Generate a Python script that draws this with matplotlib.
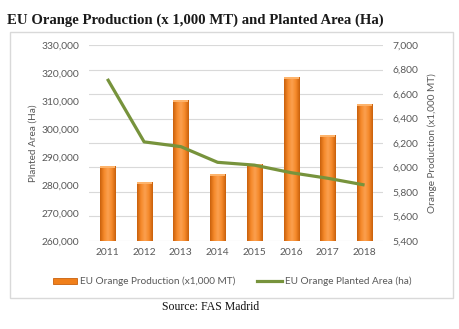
import numpy as np
import matplotlib
matplotlib.use("Agg")
import matplotlib.pyplot as plt
from matplotlib.colors import LinearSegmentedColormap
from matplotlib.patches import Rectangle

years = ["2011", "2012", "2013", "2014", "2015", "2016", "2017", "2018"]
production = [6015, 5880, 6550, 5947, 6030, 6740, 6265, 6518]  # x1,000 MT
planted_area = [317900, 295400, 293700, 288100, 287100, 284400, 282400, 280000]  # ha

left_ticks = [260000, 270000, 280000, 290000, 300000, 310000, 320000, 330000]
right_ticks = [5400, 5600, 5800, 6000, 6200, 6400, 6600, 6800, 7000]

GRAY = "#595959"
ORANGE = "#F07F1A"
GREEN = "#77933C"

plt.rcParams["font.family"] = ["Lato", "DejaVu Sans"]

fig = plt.figure(figsize=(4.6, 3.29), dpi=100)
fig.patch.set_facecolor("white")

# outer chart frame
fig.patches.append(Rectangle((10 / 460, 1 - 298 / 329), 443 / 460, 266 / 329,
                             transform=fig.transFigure, fill=False,
                             edgecolor="#D9D9D9", linewidth=1.0))

ax2 = fig.add_axes([0.1935, 0.2675, 0.639, 0.5957])
ax = ax2.twinx()
ax.yaxis.tick_left()
ax.yaxis.set_label_position("left")
ax2.yaxis.tick_right()
ax2.yaxis.set_label_position("right")

x = np.arange(len(years))
width = 0.41

# production bars with a cylinder-like shading
bars = ax2.bar(x, production, width=width, color=ORANGE, edgecolor="none", zorder=2)
shade = LinearSegmentedColormap.from_list(
    "shade", ["#C9600C", "#F5892A", "#FBA050", "#F5892A", "#C9600C"])
grad = np.linspace(0, 1, 64).reshape(1, -1)
for b in bars:
    x0, w, h = b.get_x(), b.get_width(), b.get_height()
    im = ax2.imshow(grad, cmap=shade, aspect="auto", zorder=3,
                    extent=[x0, x0 + w, right_ticks[0], h])
    im.set_clip_path(b)
    ax2.add_patch(Rectangle((x0, h - 18), w, 18, color="#FDB36B", zorder=4,
                            clip_path=b, linewidth=0))

ax2.set_ylim(right_ticks[0], right_ticks[-1])
ax2.set_yticks(right_ticks)
ax2.set_yticklabels([f"{v:,}" for v in right_ticks])
ax2.set_xlim(-0.5, len(years) - 0.5)
ax2.set_xticks(x)
ax2.set_xticklabels(years)
ax2.yaxis.grid(True, color="#D9D9D9", linewidth=0.8)
ax2.set_axisbelow(True)

# planted area line on the left axis
ax.plot(x, planted_area, color=GREEN, linewidth=2.3, solid_capstyle="butt", zorder=5)
ax.set_ylim(left_ticks[0], left_ticks[-1])
ax.set_yticks(left_ticks)
ax.set_yticklabels([f"{v:,}" for v in left_ticks])

ax.set_zorder(ax2.get_zorder() + 1)
ax.patch.set_visible(False)

for a in (ax, ax2):
    for s in a.spines.values():
        s.set_visible(False)
    a.tick_params(length=0, labelsize=7.4, colors=GRAY, pad=7)
ax2.tick_params(axis="x", pad=5)

ax.set_ylabel("Planted Area (Ha)", fontsize=7.2, color=GRAY, labelpad=3)
ax2.set_ylabel("Orange Production (x1,000 MT)", fontsize=7.2, color=GRAY, labelpad=6)

fig.text(7 / 460, 1 - 20 / 329, "EU Orange Production (x 1,000 MT) and Planted Area (Ha)",
         family="Liberation Serif", fontweight="bold", fontsize=10.6,
         va="center", ha="left", color="#1a1a1a")

# legend
fy = 1 - 281 / 329
fig.patches.append(Rectangle((53 / 460, fy - 3 / 329), 24 / 460, 6 / 329,
                             transform=fig.transFigure, facecolor=ORANGE,
                             edgecolor="#C9600C", linewidth=0.6))
fig.text(80 / 460, fy, "EU Orange Production (x1,000 MT)", fontsize=7.2,
         color=GRAY, va="center", ha="left")
fig.lines.append(plt.Line2D([257 / 460, 282 / 460], [fy, fy], transform=fig.transFigure,
                            color=GREEN, linewidth=2.3))
fig.text(285 / 460, fy, "EU Orange Planted Area (ha)", fontsize=7.2,
         color=GRAY, va="center", ha="left")

fig.text(211 / 460, 1 - 307 / 329, "Source: FAS Madrid", family="Liberation Serif",
         fontsize=8.5, va="center", ha="center", color="#111111")

fig.savefig("out.png", dpi=100)
